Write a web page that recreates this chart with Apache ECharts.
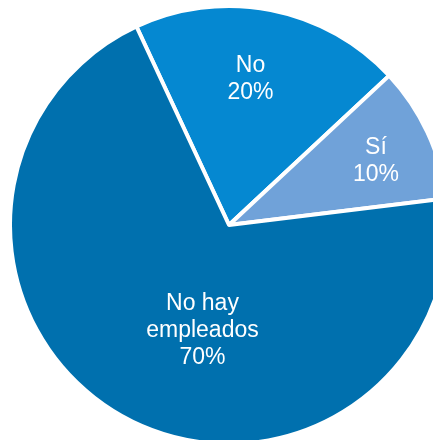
<!DOCTYPE html>
<html>
<head>
<meta charset="utf-8">
<script src="https://cdn.jsdelivr.net/npm/echarts@6/dist/echarts.min.js"></script>
<style>
html,body{margin:0;padding:0;background:#ffffff;}
#chart{width:433px;height:440px;}
</style>
</head>
<body>
<div id="chart"></div>
<script>
const categories = ['No', 'Sí', 'No hay\nempleados'];
const values = [20, 10, 70];
const colors = ['#0588D1', '#70A2D9', '#0070AE'];
const labelOffsets = [[0, -35], [45, -16], [28, 7]];

const chart = echarts.init(document.getElementById('chart'));
chart.setOption({
  animation: false,
  backgroundColor: '#ffffff',
  series: [{
    type: 'pie',
    center: [229, 225],
    radius: [0, 219],
    startAngle: 115,
    clockwise: true,
    avoidLabelOverlap: false,
    itemStyle: { borderColor: '#ffffff', borderWidth: 4 },
    label: {
      show: true,
      position: 'inside',
      color: '#ffffff',
      fontFamily: 'Liberation Sans, Arial, sans-serif',
      fontSize: 23,
      lineHeight: 27,
      formatter: p => p.name + '\n' + p.value + '%'
    },
    labelLine: { show: false },
    emphasis: { disabled: true },
    data: categories.map((c, i) => ({
      name: c,
      value: values[i],
      itemStyle: { color: colors[i] },
      label: { offset: labelOffsets[i] }
    }))
  }]
});
</script>
</body>
</html>
